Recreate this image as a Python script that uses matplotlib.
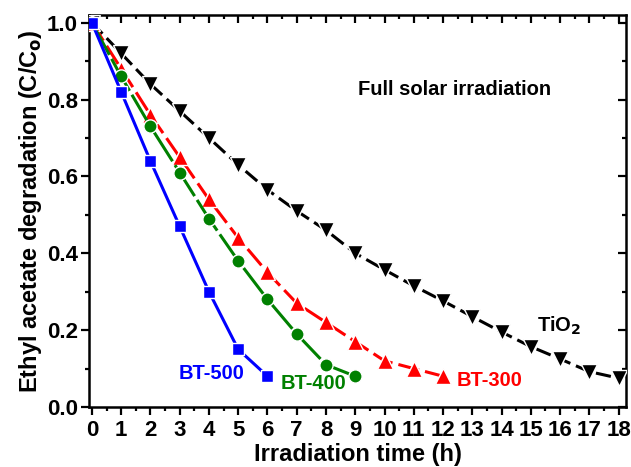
import matplotlib
matplotlib.use('Agg')
import matplotlib.pyplot as plt
from matplotlib.ticker import MultipleLocator

plt.rcParams['font.family'] = ['Liberation Sans', 'DejaVu Sans']
plt.rcParams['font.weight'] = 'bold'
plt.rcParams['axes.labelweight'] = 'bold'
plt.rcParams['mathtext.default'] = 'bf'

# data
t_tio2 = list(range(19))
c_tio2 = [1.0, 0.92, 0.84, 0.77, 0.70, 0.63, 0.565, 0.51, 0.46, 0.40,
          0.357, 0.315, 0.276, 0.235, 0.195, 0.157, 0.125, 0.092, 0.075]
t_bt300 = list(range(13))
c_bt300 = [1.0, 0.88, 0.76, 0.65, 0.54, 0.44, 0.35, 0.27, 0.22, 0.17, 0.12, 0.10, 0.08]
t_bt400 = list(range(10))
c_bt400 = [1.0, 0.86, 0.73, 0.61, 0.49, 0.38, 0.28, 0.19, 0.11, 0.08]
t_bt500 = list(range(7))
c_bt500 = [1.0, 0.82, 0.64, 0.47, 0.30, 0.15, 0.08]

fig = plt.figure(figsize=(6.31, 4.67), dpi=100)
ax = fig.add_axes([0.141, 0.1285, 0.851, 0.8395])

ax.plot(t_tio2, c_tio2, color='black', lw=2.2, dashes=(5, 2), marker='v', ms=11,
        mec='white', mew=1.0, zorder=3)
ax.plot(t_bt300, c_bt300, color='#ff0000', lw=2.2, dashes=(7, 2), marker='^', ms=11,
        mec='white', mew=1.0, zorder=4)
ax.plot(t_bt400, c_bt400, color='#008000', lw=2.2, dashes=(12, 1.5), marker='o', ms=9.5,
        mec='white', mew=1.0, zorder=5)
ax.plot(t_bt500, c_bt500, color='#0000ff', lw=2.2, marker='s', ms=9,
        mec='white', mew=1.0, zorder=6)

ax.text(12.4, 0.825, 'Full solar irradiation', ha='center', va='center', fontsize=14.5)
ax.text(15.2, 0.21, 'TiO$_2$', ha='left', va='center', fontsize=14.5, color='black')
ax.text(12.45, 0.07, 'BT-300', ha='left', va='center', fontsize=14.5, color='#ff0000')
ax.text(6.45, 0.062, 'BT-400', ha='left', va='center', fontsize=14.5, color='#008000')
ax.text(4.1, 0.088, 'BT-500', ha='center', va='center', fontsize=14.5, color='#0000ff')

ax.set_xlim(-0.1, 18.25)
ax.set_ylim(0, 1.02)
ax.xaxis.set_major_locator(MultipleLocator(1))
ax.xaxis.set_minor_locator(MultipleLocator(0.5))
ax.yaxis.set_major_locator(MultipleLocator(0.2))
ax.yaxis.set_minor_locator(MultipleLocator(0.1))
ax.set_yticklabels([f'{v:.1f}' for v in ax.get_yticks()])

for s in ax.spines.values():
    s.set_linewidth(1.8)
ax.tick_params(which='both', direction='out', width=1.6, labelsize=16)
ax.tick_params(which='major', length=6)
ax.tick_params(which='minor', length=3)
ax.tick_params(axis='x', pad=3.5)
ax.tick_params(axis='y', pad=2)
ax.tick_params(which='both', top=True, right=True)
# top/right ticks point inward
for tk in ax.xaxis.get_major_ticks() + ax.xaxis.get_minor_ticks():
    tk.tick2line.set_marker(3)
for tk in ax.yaxis.get_major_ticks() + ax.yaxis.get_minor_ticks():
    tk.tick2line.set_marker(0)

ax.set_xlabel('Irradiation time (h)', fontsize=17, labelpad=1)
ax.set_ylabel('Ethyl acetate degradation (C/C$_o$)', fontsize=17, labelpad=2)

fig.savefig('out.png', dpi=100)
